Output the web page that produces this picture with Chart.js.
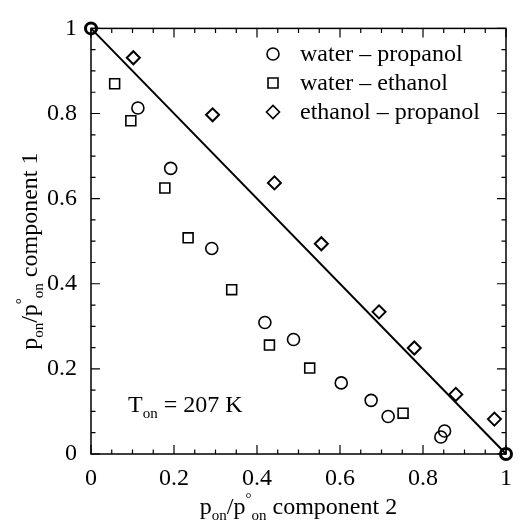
<!DOCTYPE html>
<html>
<head>
<meta charset="utf-8">
<script src="https://cdn.jsdelivr.net/npm/chart.js@4.4.0/dist/chart.umd.min.js"></script>
<style>
html,body{margin:0;padding:0;background:#fff;}
#wrap{width:522px;height:521px;}
</style>
</head>
<body>
<div id="wrap"><canvas id="c"></canvas></div>
<script>
/* ---------- DATA ---------- */
// partial pressure ratios, component 2 (x) vs component 1 (y)
const wpX = [0.113,0.192,0.291,0.419,0.488,0.603,0.675,0.716,0.843,0.852];
const wpY = [0.813,0.671,0.483,0.309,0.269,0.167,0.126,0.088,0.040,0.054];
const weX = [0.057,0.096,0.178,0.234,0.339,0.430,0.527,0.752];
const weY = [0.870,0.783,0.625,0.508,0.386,0.256,0.202,0.096];
const epX = [0.102,0.293,0.442,0.555,0.694,0.779,0.879,0.972];
const epY = [0.931,0.797,0.637,0.494,0.334,0.249,0.140,0.082];
const pureX = [0,1];
const pureY = [1,0];
const idealX = [0,1];
const idealY = [1,0];
const seriesNames = ['water – propanol','water – ethanol','ethanol – propanol'];
const seriesShapes = ['circle','rect','rectRot'];
const xTicks = [0,0.2,0.4,0.6,0.8,1];
const yTicks = [0,0.2,0.4,0.6,0.8,1];
const minorStep = 0.05;

/* ---------- HELPERS ---------- */
const FONT = '"Liberation Serif","Times New Roman",serif';
const pts = (xs,ys)=>xs.map((x,i)=>({x,y:ys[i]}));

// draw text runs with sub/superscripts: parts = [[text,'n'|'sub'|'sup'],...]
function richWidth(ctx,parts){
  let w=0;
  parts.forEach(([t,k])=>{ctx.font=(k==='n'?'24px ':'15px ')+FONT;w+=ctx.measureText(t).width;});
  return w;
}
function drawRich(ctx,parts,x,y){
  let cx=x;
  parts.forEach(([t,k])=>{
    ctx.font=(k==='n'?'24px ':'15px ')+FONT;
    const dy=k==='sub'?6:(k==='sup'?-11:0);
    ctx.fillText(t,cx,y+dy);
    cx+=ctx.measureText(t).width;
  });
}

function marker(ctx,shape,x,y){
  ctx.beginPath();
  if(shape==='circle') ctx.arc(x,y,6,0,Math.PI*2);
  else if(shape==='rect') ctx.rect(x-5,y-5,10,10);
  else {ctx.moveTo(x-6.5,y);ctx.lineTo(x,y-6.5);ctx.lineTo(x+6.5,y);ctx.lineTo(x,y+6.5);ctx.closePath();}
  ctx.stroke();
}

/* ---------- PLUGINS ---------- */
const framePlugin = {
  id:'frame',
  beforeDatasetsDraw(chart){
    const {ctx,chartArea:a,scales:{x,y}}=chart;
    ctx.save();
    ctx.strokeStyle='#000';ctx.lineWidth=1.5;
    ctx.strokeRect(a.left,a.top,a.right-a.left,a.bottom-a.top);
    ctx.lineWidth=1.2;
    ctx.beginPath();
    for(let i=0;i<=Math.round(1/minorStep);i++){
      const v=i*minorStep, major=(i%4===0), len=major?9:4.5;
      const px=x.getPixelForValue(v), py=y.getPixelForValue(v);
      ctx.moveTo(px,a.bottom);ctx.lineTo(px,a.bottom-len);
      ctx.moveTo(px,a.top);ctx.lineTo(px,a.top+len);
      ctx.moveTo(a.left,py);ctx.lineTo(a.left+len,py);
      ctx.moveTo(a.right,py);ctx.lineTo(a.right-len,py);
    }
    ctx.stroke();
    ctx.restore();
  },
  afterDraw(chart){
    const {ctx,chartArea:a}=chart;
    ctx.save();
    ctx.fillStyle='#000';ctx.strokeStyle='#000';ctx.textBaseline='alphabetic';ctx.textAlign='left';

    // x axis title
    const xt=[['p','n'],['on','sub'],['/p','n'],['°','sup'],['on','sub'],[' component 2','n']];
    const cx=(a.left+a.right)/2;
    drawRich(ctx,xt,cx-richWidth(ctx,xt)/2,514);

    // y axis title (rotated)
    const yt=[['p','n'],['on','sub'],['/p','n'],['°','sup'],['on','sub'],[' component 1','n']];
    ctx.save();
    ctx.translate(37,(a.top+a.bottom)/2+10);
    ctx.rotate(-Math.PI/2);
    drawRich(ctx,yt,-richWidth(ctx,yt)/2,0);
    ctx.restore();

    // temperature note
    drawRich(ctx,[['T','n'],['on','sub'],[' = 207 K','n']],128,412);

    // legend
    ctx.lineWidth=1.6;
    seriesNames.forEach((name,i)=>{
      const ry=54+i*29;
      marker(ctx,seriesShapes[i],273,ry);
      ctx.font='24px '+FONT;
      ctx.fillText(name,300,ry+7);
    });
    ctx.restore();
  }
};

/* ---------- CHART ---------- */
const tickFont={family:FONT,size:24};
const scatterSet=(data,shape,r,bw)=>({data,pointStyle:shape,pointRadius:r,pointHoverRadius:r,
  borderColor:'#000',backgroundColor:'rgba(0,0,0,0)',pointBorderWidth:bw,borderWidth:bw,showLine:false,clip:false});

new Chart(document.getElementById('c'),{
  type:'scatter',
  data:{datasets:[
    {data:pts(idealX,idealY),showLine:true,borderColor:'#000',borderWidth:2,pointRadius:0,clip:false},
    scatterSet(pts(wpX,wpY),'circle',6,1.6),
    scatterSet(pts(weX,weY),'rect',7,1.6),
    scatterSet(pts(epX,epY),'rectRot',6.5,2),
    scatterSet(pts(pureX,pureY),'circle',5.5,3)
  ]},
  options:{
    responsive:true,maintainAspectRatio:false,animation:false,
    layout:{padding:{top:21,right:5,left:0,bottom:0}},
    plugins:{legend:{display:false},tooltip:{enabled:false}},
    scales:{
      x:{type:'linear',min:0,max:1,
        afterBuildTicks:s=>{s.ticks=xTicks.map(v=>({value:v}));},
        afterFit:s=>{s.height=67;},
        grid:{display:false,drawTicks:false},border:{display:false},
        ticks:{padding:10,color:'#000',font:tickFont,maxRotation:0,autoSkip:false,callback:v=>String(v)}},
      y:{type:'linear',min:0,max:1,
        afterBuildTicks:s=>{s.ticks=yTicks.map(v=>({value:v}));},
        afterFit:s=>{s.width=91;},
        grid:{display:false,drawTicks:false},border:{display:false},
        ticks:{padding:14,color:'#000',font:tickFont,autoSkip:false,callback:v=>String(v)}}
    }
  },
  plugins:[framePlugin]
});
</script>
</body>
</html>
